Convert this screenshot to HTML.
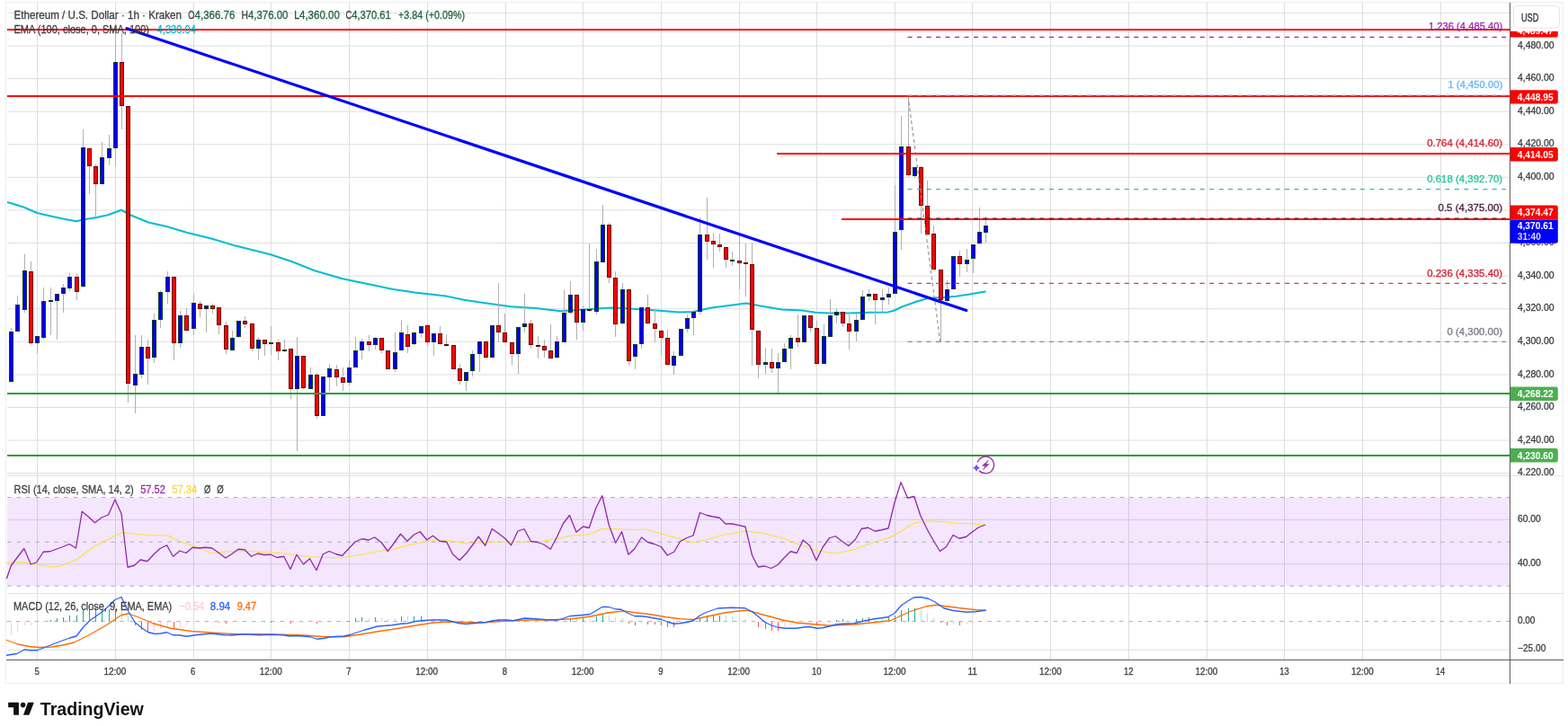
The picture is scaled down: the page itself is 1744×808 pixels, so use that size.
<!DOCTYPE html>
<html><head><meta charset="utf-8"><title>ETH/USD chart</title>
<style>html,body{margin:0;padding:0;background:#fff;}body{width:1744px;height:808px;overflow:hidden;}svg{display:block;}</style>
</head><body>
<svg width="1744" height="808" viewBox="0 0 1744 808" font-family="'Liberation Sans', Arial, sans-serif">
<rect x="0" y="0" width="1744" height="808" fill="#ffffff"/>
<rect x="6.5" y="2.5" width="1732.0" height="758.0" fill="#ffffff" stroke="#eeeeee" stroke-width="1"/>
<g shape-rendering="crispEdges">
<line x1="41.50" y1="3.00" x2="41.50" y2="734.00" stroke="#dedede" stroke-width="1" />
<line x1="128.50" y1="3.00" x2="128.50" y2="734.00" stroke="#dedede" stroke-width="1" />
<line x1="215.50" y1="3.00" x2="215.50" y2="734.00" stroke="#dedede" stroke-width="1" />
<line x1="301.50" y1="3.00" x2="301.50" y2="734.00" stroke="#dedede" stroke-width="1" />
<line x1="388.50" y1="3.00" x2="388.50" y2="734.00" stroke="#dedede" stroke-width="1" />
<line x1="475.50" y1="3.00" x2="475.50" y2="734.00" stroke="#dedede" stroke-width="1" />
<line x1="562.50" y1="3.00" x2="562.50" y2="734.00" stroke="#dedede" stroke-width="1" />
<line x1="648.50" y1="3.00" x2="648.50" y2="734.00" stroke="#dedede" stroke-width="1" />
<line x1="735.50" y1="3.00" x2="735.50" y2="734.00" stroke="#dedede" stroke-width="1" />
<line x1="822.50" y1="3.00" x2="822.50" y2="734.00" stroke="#dedede" stroke-width="1" />
<line x1="908.50" y1="3.00" x2="908.50" y2="734.00" stroke="#dedede" stroke-width="1" />
<line x1="995.50" y1="3.00" x2="995.50" y2="734.00" stroke="#dedede" stroke-width="1" />
<line x1="1081.50" y1="3.00" x2="1081.50" y2="734.00" stroke="#dedede" stroke-width="1" />
<line x1="1168.50" y1="3.00" x2="1168.50" y2="734.00" stroke="#dedede" stroke-width="1" />
<line x1="1255.50" y1="3.00" x2="1255.50" y2="734.00" stroke="#dedede" stroke-width="1" />
<line x1="1342.50" y1="3.00" x2="1342.50" y2="734.00" stroke="#dedede" stroke-width="1" />
<line x1="1428.50" y1="3.00" x2="1428.50" y2="734.00" stroke="#dedede" stroke-width="1" />
<line x1="1515.50" y1="3.00" x2="1515.50" y2="734.00" stroke="#dedede" stroke-width="1" />
<line x1="1602.50" y1="3.00" x2="1602.50" y2="734.00" stroke="#dedede" stroke-width="1" />
</g>
<line x1="8.00" y1="526.68" x2="1679.00" y2="526.68" stroke="#dedede" stroke-width="1" />
<line x1="8.00" y1="490.09" x2="1679.00" y2="490.09" stroke="#dedede" stroke-width="1" />
<line x1="8.00" y1="453.50" x2="1679.00" y2="453.50" stroke="#dedede" stroke-width="1" />
<line x1="8.00" y1="416.90" x2="1679.00" y2="416.90" stroke="#dedede" stroke-width="1" />
<line x1="8.00" y1="380.31" x2="1679.00" y2="380.31" stroke="#dedede" stroke-width="1" />
<line x1="8.00" y1="343.72" x2="1679.00" y2="343.72" stroke="#dedede" stroke-width="1" />
<line x1="8.00" y1="307.13" x2="1679.00" y2="307.13" stroke="#dedede" stroke-width="1" />
<line x1="8.00" y1="270.54" x2="1679.00" y2="270.54" stroke="#dedede" stroke-width="1" />
<line x1="8.00" y1="233.95" x2="1679.00" y2="233.95" stroke="#dedede" stroke-width="1" />
<line x1="8.00" y1="197.35" x2="1679.00" y2="197.35" stroke="#dedede" stroke-width="1" />
<line x1="8.00" y1="160.76" x2="1679.00" y2="160.76" stroke="#dedede" stroke-width="1" />
<line x1="8.00" y1="124.17" x2="1679.00" y2="124.17" stroke="#dedede" stroke-width="1" />
<line x1="8.00" y1="87.58" x2="1679.00" y2="87.58" stroke="#dedede" stroke-width="1" />
<line x1="8.00" y1="50.99" x2="1679.00" y2="50.99" stroke="#dedede" stroke-width="1" />
<line x1="8.00" y1="14.39" x2="1679.00" y2="14.39" stroke="#dedede" stroke-width="1" />
<line x1="8.00" y1="578.30" x2="1679.00" y2="578.30" stroke="#dedede" stroke-width="1" />
<line x1="8.00" y1="627.80" x2="1679.00" y2="627.80" stroke="#dedede" stroke-width="1" />
<rect x="8" y="553.5" width="1671.0" height="98.7" fill="rgb(155,47,238)" fill-opacity="0.12"/>
<line x1="8.00" y1="723.20" x2="1679.00" y2="723.20" stroke="#dedede" stroke-width="1" />
<g shape-rendering="crispEdges">
<line x1="8.00" y1="529.50" x2="1738.50" y2="529.50" stroke="#e0e3eb" stroke-width="1" />
<line x1="8.00" y1="660.50" x2="1738.50" y2="660.50" stroke="#e0e3eb" stroke-width="1" />
</g>
<line x1="8.10" y1="553.60" x2="1679.00" y2="553.60" stroke="#adadb2" stroke-width="1" stroke-dasharray="4.5 5.988"/>
<line x1="8.10" y1="603.20" x2="1679.00" y2="603.20" stroke="#adadb2" stroke-width="1" stroke-dasharray="4.5 5.988"/>
<line x1="8.10" y1="652.20" x2="1679.00" y2="652.20" stroke="#adadb2" stroke-width="1" stroke-dasharray="4.5 5.988"/>
<line x1="7.41" y1="691.60" x2="1679.00" y2="691.60" stroke="#b0b0b5" stroke-width="1" stroke-dasharray="4.5 5.988"/>
<svg x="8" y="2.5" width="1671.0" height="524.5" viewBox="8 2.5 1671.0 524.5" overflow="hidden">
<polyline points="8.00,225.00 26.25,230.50 41.25,237.00 56.25,240.50 72.50,244.00 85.00,246.25 93.75,244.25 107.50,242.00 120.00,239.25 135.00,233.75 145.00,239.25 165.00,247.50 185.00,252.00 207.50,258.75 235.00,265.50 260.00,273.00 300.00,283.00 325.00,291.25 350.00,301.25 380.00,310.00 410.00,316.25 436.00,321.75 461.00,325.50 496.00,329.50 516.00,333.75 541.00,337.50 568.50,341.25 596.00,343.00 623.50,346.25 651.00,344.50 671.00,343.00 681.00,342.50 696.00,343.25 723.50,345.00 756.00,347.50 771.00,347.00 791.00,342.50 811.00,340.00 829.75,337.50 846.00,340.50 869.80,344.40 892.20,345.50 907.10,347.70 922.00,348.40 944.40,348.40 966.70,347.70 987.60,347.40 995.00,345.50 1002.50,341.70 1018.90,335.80 1032.30,332.00 1048.70,331.00 1063.60,329.80 1078.50,327.60 1095.70,324.60" fill="none" stroke="#00bcd4" stroke-width="2" stroke-linejoin="round" stroke-linecap="round" />
<g shape-rendering="crispEdges">
<line x1="12.5" y1="365.0" x2="12.5" y2="424.5" stroke="#b0b0b0" stroke-width="1"/>
<rect x="10.5" y="369.5" width="4" height="55" fill="#0000ff" stroke="#0d3b24" stroke-width="1"/>
<line x1="19.5" y1="328.8" x2="19.5" y2="368.8" stroke="#b0b0b0" stroke-width="1"/>
<rect x="17.5" y="339.5" width="4" height="29" fill="#0000ff" stroke="#0d3b24" stroke-width="1"/>
<line x1="27.5" y1="282.5" x2="27.5" y2="347.5" stroke="#b0b0b0" stroke-width="1"/>
<rect x="25.5" y="301.5" width="4" height="43" fill="#0000ff" stroke="#0d3b24" stroke-width="1"/>
<line x1="34.5" y1="290.5" x2="34.5" y2="382.5" stroke="#b0b0b0" stroke-width="1"/>
<rect x="32.5" y="302.5" width="4" height="79" fill="#ff0000" stroke="#6b0000" stroke-width="1"/>
<line x1="41.5" y1="374.2" x2="41.5" y2="392.5" stroke="#b0b0b0" stroke-width="1"/>
<rect x="39.5" y="374.5" width="4" height="7" fill="#0000ff" stroke="#0d3b24" stroke-width="1"/>
<line x1="48.5" y1="319.5" x2="48.5" y2="376.5" stroke="#b0b0b0" stroke-width="1"/>
<rect x="46.5" y="335.5" width="4" height="40" fill="#0000ff" stroke="#0d3b24" stroke-width="1"/>
<line x1="56.5" y1="320.0" x2="56.5" y2="372.5" stroke="#b0b0b0" stroke-width="1"/>
<rect x="54.5" y="334.5" width="4" height="1" fill="#0000ff" stroke="#0d3b24" stroke-width="1"/>
<line x1="63.5" y1="327.0" x2="63.5" y2="377.5" stroke="#b0b0b0" stroke-width="1"/>
<rect x="61.5" y="327.5" width="4" height="7" fill="#0000ff" stroke="#0d3b24" stroke-width="1"/>
<line x1="70.5" y1="316.2" x2="70.5" y2="347.5" stroke="#b0b0b0" stroke-width="1"/>
<rect x="68.5" y="320.5" width="4" height="6" fill="#0000ff" stroke="#0d3b24" stroke-width="1"/>
<line x1="77.5" y1="303.8" x2="77.5" y2="323.8" stroke="#b0b0b0" stroke-width="1"/>
<rect x="75.5" y="308.5" width="4" height="12" fill="#0000ff" stroke="#0d3b24" stroke-width="1"/>
<line x1="85.5" y1="303.8" x2="85.5" y2="333.8" stroke="#b0b0b0" stroke-width="1"/>
<rect x="83.5" y="308.5" width="4" height="16" fill="#ff0000" stroke="#6b0000" stroke-width="1"/>
<line x1="92.5" y1="143.8" x2="92.5" y2="319.5" stroke="#b0b0b0" stroke-width="1"/>
<rect x="90.5" y="164.5" width="4" height="154" fill="#0000ff" stroke="#0d3b24" stroke-width="1"/>
<line x1="99.5" y1="165.0" x2="99.5" y2="216.0" stroke="#b0b0b0" stroke-width="1"/>
<rect x="97.5" y="165.5" width="4" height="19" fill="#ff0000" stroke="#6b0000" stroke-width="1"/>
<line x1="106.5" y1="183.0" x2="106.5" y2="241.2" stroke="#b0b0b0" stroke-width="1"/>
<rect x="104.5" y="185.5" width="4" height="19" fill="#ff0000" stroke="#6b0000" stroke-width="1"/>
<line x1="113.5" y1="158.0" x2="113.5" y2="204.5" stroke="#b0b0b0" stroke-width="1"/>
<rect x="111.5" y="175.5" width="4" height="29" fill="#0000ff" stroke="#0d3b24" stroke-width="1"/>
<line x1="121.5" y1="150.0" x2="121.5" y2="184.0" stroke="#b0b0b0" stroke-width="1"/>
<rect x="119.5" y="165.5" width="4" height="10" fill="#0000ff" stroke="#0d3b24" stroke-width="1"/>
<line x1="128.5" y1="30.0" x2="128.5" y2="185.0" stroke="#b0b0b0" stroke-width="1"/>
<rect x="126.5" y="69.5" width="4" height="95" fill="#0000ff" stroke="#0d3b24" stroke-width="1"/>
<line x1="135.5" y1="36.6" x2="135.5" y2="143.8" stroke="#b0b0b0" stroke-width="1"/>
<rect x="133.5" y="69.5" width="4" height="48" fill="#ff0000" stroke="#6b0000" stroke-width="1"/>
<line x1="142.5" y1="118.2" x2="142.5" y2="447.5" stroke="#b0b0b0" stroke-width="1"/>
<rect x="140.5" y="118.5" width="4" height="308" fill="#ff0000" stroke="#6b0000" stroke-width="1"/>
<line x1="150.5" y1="373.0" x2="150.5" y2="459.5" stroke="#b0b0b0" stroke-width="1"/>
<rect x="148.5" y="416.5" width="4" height="12" fill="#0000ff" stroke="#0d3b24" stroke-width="1"/>
<line x1="157.5" y1="372.5" x2="157.5" y2="421.2" stroke="#b0b0b0" stroke-width="1"/>
<rect x="155.5" y="386.5" width="4" height="30" fill="#0000ff" stroke="#0d3b24" stroke-width="1"/>
<line x1="164.5" y1="378.0" x2="164.5" y2="428.0" stroke="#b0b0b0" stroke-width="1"/>
<rect x="162.5" y="386.5" width="4" height="12" fill="#ff0000" stroke="#6b0000" stroke-width="1"/>
<line x1="171.5" y1="348.8" x2="171.5" y2="403.8" stroke="#b0b0b0" stroke-width="1"/>
<rect x="169.5" y="356.5" width="4" height="41" fill="#0000ff" stroke="#0d3b24" stroke-width="1"/>
<line x1="178.5" y1="322.5" x2="178.5" y2="365.0" stroke="#b0b0b0" stroke-width="1"/>
<rect x="176.5" y="325.5" width="4" height="30" fill="#0000ff" stroke="#0d3b24" stroke-width="1"/>
<line x1="186.5" y1="302.0" x2="186.5" y2="337.5" stroke="#b0b0b0" stroke-width="1"/>
<rect x="184.5" y="308.5" width="4" height="16" fill="#0000ff" stroke="#0d3b24" stroke-width="1"/>
<line x1="193.5" y1="308.2" x2="193.5" y2="400.8" stroke="#b0b0b0" stroke-width="1"/>
<rect x="191.5" y="308.5" width="4" height="73" fill="#ff0000" stroke="#6b0000" stroke-width="1"/>
<line x1="200.5" y1="346.2" x2="200.5" y2="387.0" stroke="#b0b0b0" stroke-width="1"/>
<rect x="198.5" y="351.5" width="4" height="30" fill="#0000ff" stroke="#0d3b24" stroke-width="1"/>
<line x1="207.5" y1="343.0" x2="207.5" y2="368.0" stroke="#b0b0b0" stroke-width="1"/>
<rect x="205.5" y="351.5" width="4" height="16" fill="#ff0000" stroke="#6b0000" stroke-width="1"/>
<line x1="215.5" y1="327.0" x2="215.5" y2="373.0" stroke="#b0b0b0" stroke-width="1"/>
<rect x="213.5" y="337.5" width="4" height="28" fill="#0000ff" stroke="#0d3b24" stroke-width="1"/>
<line x1="222.5" y1="334.5" x2="222.5" y2="352.5" stroke="#b0b0b0" stroke-width="1"/>
<rect x="220.5" y="338.5" width="4" height="5" fill="#ff0000" stroke="#6b0000" stroke-width="1"/>
<line x1="229.5" y1="340.5" x2="229.5" y2="370.0" stroke="#b0b0b0" stroke-width="1"/>
<rect x="227.5" y="340.5" width="4" height="3" fill="#0000ff" stroke="#0d3b24" stroke-width="1"/>
<line x1="236.5" y1="338.0" x2="236.5" y2="348.8" stroke="#b0b0b0" stroke-width="1"/>
<rect x="234.5" y="340.5" width="4" height="3" fill="#ff0000" stroke="#6b0000" stroke-width="1"/>
<line x1="243.5" y1="342.0" x2="243.5" y2="372.0" stroke="#b0b0b0" stroke-width="1"/>
<rect x="241.5" y="342.5" width="4" height="19" fill="#ff0000" stroke="#6b0000" stroke-width="1"/>
<line x1="251.5" y1="357.5" x2="251.5" y2="393.8" stroke="#b0b0b0" stroke-width="1"/>
<rect x="249.5" y="362.5" width="4" height="26" fill="#ff0000" stroke="#6b0000" stroke-width="1"/>
<line x1="258.5" y1="368.0" x2="258.5" y2="389.5" stroke="#b0b0b0" stroke-width="1"/>
<rect x="256.5" y="376.5" width="4" height="13" fill="#0000ff" stroke="#0d3b24" stroke-width="1"/>
<line x1="265.5" y1="357.0" x2="265.5" y2="376.0" stroke="#b0b0b0" stroke-width="1"/>
<rect x="263.5" y="357.5" width="4" height="17" fill="#0000ff" stroke="#0d3b24" stroke-width="1"/>
<line x1="272.5" y1="352.0" x2="272.5" y2="365.0" stroke="#b0b0b0" stroke-width="1"/>
<rect x="270.5" y="357.5" width="4" height="3" fill="#ff0000" stroke="#6b0000" stroke-width="1"/>
<line x1="280.5" y1="360.0" x2="280.5" y2="391.0" stroke="#b0b0b0" stroke-width="1"/>
<rect x="278.5" y="360.5" width="4" height="27" fill="#ff0000" stroke="#6b0000" stroke-width="1"/>
<line x1="287.5" y1="374.5" x2="287.5" y2="400.5" stroke="#b0b0b0" stroke-width="1"/>
<rect x="285.5" y="378.5" width="4" height="9" fill="#0000ff" stroke="#0d3b24" stroke-width="1"/>
<line x1="294.5" y1="378.0" x2="294.5" y2="395.5" stroke="#b0b0b0" stroke-width="1"/>
<rect x="292.5" y="378.5" width="4" height="4" fill="#ff0000" stroke="#6b0000" stroke-width="1"/>
<line x1="301.5" y1="362.5" x2="301.5" y2="394.5" stroke="#b0b0b0" stroke-width="1"/>
<rect x="299.5" y="381.5" width="4" height="1" fill="#0000ff" stroke="#0d3b24" stroke-width="1"/>
<line x1="309.5" y1="377.5" x2="309.5" y2="400.5" stroke="#b0b0b0" stroke-width="1"/>
<rect x="307.5" y="381.5" width="4" height="9" fill="#ff0000" stroke="#6b0000" stroke-width="1"/>
<line x1="316.5" y1="378.0" x2="316.5" y2="392.0" stroke="#b0b0b0" stroke-width="1"/>
<rect x="314.5" y="389.5" width="4" height="1" fill="#0000ff" stroke="#0d3b24" stroke-width="1"/>
<line x1="323.5" y1="387.5" x2="323.5" y2="443.8" stroke="#b0b0b0" stroke-width="1"/>
<rect x="321.5" y="388.5" width="4" height="44" fill="#ff0000" stroke="#6b0000" stroke-width="1"/>
<line x1="330.5" y1="374.5" x2="330.5" y2="502.0" stroke="#b0b0b0" stroke-width="1"/>
<rect x="328.5" y="396.5" width="4" height="36" fill="#0000ff" stroke="#0d3b24" stroke-width="1"/>
<line x1="337.5" y1="396.2" x2="337.5" y2="432.5" stroke="#b0b0b0" stroke-width="1"/>
<rect x="335.5" y="396.5" width="4" height="35" fill="#ff0000" stroke="#6b0000" stroke-width="1"/>
<line x1="345.5" y1="408.8" x2="345.5" y2="432.5" stroke="#b0b0b0" stroke-width="1"/>
<rect x="343.5" y="417.5" width="4" height="15" fill="#0000ff" stroke="#0d3b24" stroke-width="1"/>
<line x1="352.5" y1="415.0" x2="352.5" y2="466.2" stroke="#b0b0b0" stroke-width="1"/>
<rect x="350.5" y="417.5" width="4" height="45" fill="#ff0000" stroke="#6b0000" stroke-width="1"/>
<line x1="359.5" y1="419.2" x2="359.5" y2="463.2" stroke="#b0b0b0" stroke-width="1"/>
<rect x="357.5" y="419.5" width="4" height="43" fill="#0000ff" stroke="#0d3b24" stroke-width="1"/>
<line x1="366.5" y1="404.5" x2="366.5" y2="434.5" stroke="#b0b0b0" stroke-width="1"/>
<rect x="364.5" y="410.5" width="4" height="9" fill="#0000ff" stroke="#0d3b24" stroke-width="1"/>
<line x1="374.5" y1="405.5" x2="374.5" y2="430.0" stroke="#b0b0b0" stroke-width="1"/>
<rect x="372.5" y="411.5" width="4" height="8" fill="#ff0000" stroke="#6b0000" stroke-width="1"/>
<line x1="381.5" y1="408.8" x2="381.5" y2="434.5" stroke="#b0b0b0" stroke-width="1"/>
<rect x="379.5" y="420.5" width="4" height="5" fill="#ff0000" stroke="#6b0000" stroke-width="1"/>
<line x1="388.5" y1="400.8" x2="388.5" y2="428.8" stroke="#b0b0b0" stroke-width="1"/>
<rect x="386.5" y="409.5" width="4" height="16" fill="#0000ff" stroke="#0d3b24" stroke-width="1"/>
<line x1="395.5" y1="375.0" x2="395.5" y2="408.8" stroke="#b0b0b0" stroke-width="1"/>
<rect x="393.5" y="390.5" width="4" height="18" fill="#0000ff" stroke="#0d3b24" stroke-width="1"/>
<line x1="402.5" y1="377.0" x2="402.5" y2="399.5" stroke="#b0b0b0" stroke-width="1"/>
<rect x="400.5" y="380.5" width="4" height="9" fill="#0000ff" stroke="#0d3b24" stroke-width="1"/>
<line x1="410.5" y1="373.0" x2="410.5" y2="390.8" stroke="#b0b0b0" stroke-width="1"/>
<rect x="408.5" y="380.5" width="4" height="3" fill="#ff0000" stroke="#6b0000" stroke-width="1"/>
<line x1="417.5" y1="375.0" x2="417.5" y2="388.8" stroke="#b0b0b0" stroke-width="1"/>
<rect x="415.5" y="376.5" width="4" height="7" fill="#0000ff" stroke="#0d3b24" stroke-width="1"/>
<line x1="424.5" y1="376.2" x2="424.5" y2="392.5" stroke="#b0b0b0" stroke-width="1"/>
<rect x="422.5" y="376.5" width="4" height="13" fill="#ff0000" stroke="#6b0000" stroke-width="1"/>
<line x1="431.5" y1="389.5" x2="431.5" y2="410.5" stroke="#b0b0b0" stroke-width="1"/>
<rect x="429.5" y="390.5" width="4" height="20" fill="#ff0000" stroke="#6b0000" stroke-width="1"/>
<line x1="439.5" y1="370.0" x2="439.5" y2="413.8" stroke="#b0b0b0" stroke-width="1"/>
<rect x="437.5" y="392.5" width="4" height="18" fill="#0000ff" stroke="#0d3b24" stroke-width="1"/>
<line x1="446.5" y1="356.2" x2="446.5" y2="390.0" stroke="#b0b0b0" stroke-width="1"/>
<rect x="444.5" y="370.5" width="4" height="19" fill="#0000ff" stroke="#0d3b24" stroke-width="1"/>
<line x1="453.5" y1="362.0" x2="453.5" y2="393.0" stroke="#b0b0b0" stroke-width="1"/>
<rect x="451.5" y="372.5" width="4" height="13" fill="#ff0000" stroke="#6b0000" stroke-width="1"/>
<line x1="460.5" y1="370.5" x2="460.5" y2="383.8" stroke="#b0b0b0" stroke-width="1"/>
<rect x="458.5" y="370.5" width="4" height="12" fill="#0000ff" stroke="#0d3b24" stroke-width="1"/>
<line x1="468.5" y1="363.0" x2="468.5" y2="376.2" stroke="#b0b0b0" stroke-width="1"/>
<rect x="466.5" y="363.5" width="4" height="7" fill="#0000ff" stroke="#0d3b24" stroke-width="1"/>
<line x1="475.5" y1="362.0" x2="475.5" y2="385.0" stroke="#b0b0b0" stroke-width="1"/>
<rect x="473.5" y="362.5" width="4" height="18" fill="#ff0000" stroke="#6b0000" stroke-width="1"/>
<line x1="482.5" y1="371.2" x2="482.5" y2="396.2" stroke="#b0b0b0" stroke-width="1"/>
<rect x="480.5" y="371.5" width="4" height="9" fill="#0000ff" stroke="#0d3b24" stroke-width="1"/>
<line x1="489.5" y1="363.0" x2="489.5" y2="383.0" stroke="#b0b0b0" stroke-width="1"/>
<rect x="487.5" y="371.5" width="4" height="11" fill="#ff0000" stroke="#6b0000" stroke-width="1"/>
<line x1="496.5" y1="372.0" x2="496.5" y2="386.2" stroke="#b0b0b0" stroke-width="1"/>
<rect x="494.5" y="383.5" width="4" height="1" fill="#ff0000" stroke="#6b0000" stroke-width="1"/>
<line x1="504.5" y1="383.8" x2="504.5" y2="410.5" stroke="#b0b0b0" stroke-width="1"/>
<rect x="502.5" y="384.5" width="4" height="26" fill="#ff0000" stroke="#6b0000" stroke-width="1"/>
<line x1="511.5" y1="404.5" x2="511.5" y2="427.5" stroke="#b0b0b0" stroke-width="1"/>
<rect x="509.5" y="410.5" width="4" height="13" fill="#ff0000" stroke="#6b0000" stroke-width="1"/>
<line x1="518.5" y1="413.8" x2="518.5" y2="434.5" stroke="#b0b0b0" stroke-width="1"/>
<rect x="516.5" y="414.5" width="4" height="9" fill="#0000ff" stroke="#0d3b24" stroke-width="1"/>
<line x1="525.5" y1="390.0" x2="525.5" y2="418.8" stroke="#b0b0b0" stroke-width="1"/>
<rect x="523.5" y="394.5" width="4" height="18" fill="#0000ff" stroke="#0d3b24" stroke-width="1"/>
<line x1="533.5" y1="380.5" x2="533.5" y2="413.8" stroke="#b0b0b0" stroke-width="1"/>
<rect x="531.5" y="380.5" width="4" height="13" fill="#0000ff" stroke="#0d3b24" stroke-width="1"/>
<line x1="540.5" y1="380.5" x2="540.5" y2="398.0" stroke="#b0b0b0" stroke-width="1"/>
<rect x="538.5" y="380.5" width="4" height="17" fill="#ff0000" stroke="#6b0000" stroke-width="1"/>
<line x1="547.5" y1="362.0" x2="547.5" y2="398.0" stroke="#b0b0b0" stroke-width="1"/>
<rect x="545.5" y="362.5" width="4" height="35" fill="#0000ff" stroke="#0d3b24" stroke-width="1"/>
<line x1="554.5" y1="314.5" x2="554.5" y2="381.2" stroke="#b0b0b0" stroke-width="1"/>
<rect x="552.5" y="362.5" width="4" height="7" fill="#ff0000" stroke="#6b0000" stroke-width="1"/>
<line x1="561.5" y1="348.8" x2="561.5" y2="381.2" stroke="#b0b0b0" stroke-width="1"/>
<rect x="559.5" y="370.5" width="4" height="10" fill="#ff0000" stroke="#6b0000" stroke-width="1"/>
<line x1="569.5" y1="381.2" x2="569.5" y2="406.2" stroke="#b0b0b0" stroke-width="1"/>
<rect x="567.5" y="381.5" width="4" height="12" fill="#ff0000" stroke="#6b0000" stroke-width="1"/>
<line x1="576.5" y1="364.5" x2="576.5" y2="415.8" stroke="#b0b0b0" stroke-width="1"/>
<rect x="574.5" y="364.5" width="4" height="29" fill="#0000ff" stroke="#0d3b24" stroke-width="1"/>
<line x1="583.5" y1="327.0" x2="583.5" y2="370.0" stroke="#b0b0b0" stroke-width="1"/>
<rect x="581.5" y="360.5" width="4" height="3" fill="#0000ff" stroke="#0d3b24" stroke-width="1"/>
<line x1="590.5" y1="356.2" x2="590.5" y2="387.5" stroke="#b0b0b0" stroke-width="1"/>
<rect x="588.5" y="360.5" width="4" height="23" fill="#ff0000" stroke="#6b0000" stroke-width="1"/>
<line x1="598.5" y1="373.8" x2="598.5" y2="398.8" stroke="#b0b0b0" stroke-width="1"/>
<rect x="596.5" y="384.5" width="4" height="1" fill="#ff0000" stroke="#6b0000" stroke-width="1"/>
<line x1="605.5" y1="377.5" x2="605.5" y2="398.0" stroke="#b0b0b0" stroke-width="1"/>
<rect x="603.5" y="385.5" width="4" height="4" fill="#ff0000" stroke="#6b0000" stroke-width="1"/>
<line x1="612.5" y1="361.2" x2="612.5" y2="398.5" stroke="#b0b0b0" stroke-width="1"/>
<rect x="610.5" y="390.5" width="4" height="8" fill="#ff0000" stroke="#6b0000" stroke-width="1"/>
<line x1="619.5" y1="373.5" x2="619.5" y2="398.5" stroke="#b0b0b0" stroke-width="1"/>
<rect x="617.5" y="380.5" width="4" height="17" fill="#0000ff" stroke="#0d3b24" stroke-width="1"/>
<line x1="627.5" y1="323.0" x2="627.5" y2="380.2" stroke="#b0b0b0" stroke-width="1"/>
<rect x="625.5" y="348.5" width="4" height="32" fill="#0000ff" stroke="#0d3b24" stroke-width="1"/>
<line x1="634.5" y1="312.5" x2="634.5" y2="350.0" stroke="#b0b0b0" stroke-width="1"/>
<rect x="632.5" y="328.5" width="4" height="19" fill="#0000ff" stroke="#0d3b24" stroke-width="1"/>
<line x1="641.5" y1="327.5" x2="641.5" y2="377.5" stroke="#b0b0b0" stroke-width="1"/>
<rect x="639.5" y="328.5" width="4" height="30" fill="#ff0000" stroke="#6b0000" stroke-width="1"/>
<line x1="648.5" y1="339.5" x2="648.5" y2="368.0" stroke="#b0b0b0" stroke-width="1"/>
<rect x="646.5" y="344.5" width="4" height="14" fill="#0000ff" stroke="#0d3b24" stroke-width="1"/>
<line x1="655.5" y1="270.5" x2="655.5" y2="347.0" stroke="#b0b0b0" stroke-width="1"/>
<rect x="653.5" y="344.5" width="4" height="1" fill="#ff0000" stroke="#6b0000" stroke-width="1"/>
<line x1="663.5" y1="277.0" x2="663.5" y2="349.5" stroke="#b0b0b0" stroke-width="1"/>
<rect x="661.5" y="291.5" width="4" height="55" fill="#0000ff" stroke="#0d3b24" stroke-width="1"/>
<line x1="670.5" y1="227.5" x2="670.5" y2="292.0" stroke="#b0b0b0" stroke-width="1"/>
<rect x="668.5" y="250.5" width="4" height="41" fill="#0000ff" stroke="#0d3b24" stroke-width="1"/>
<line x1="677.5" y1="247.5" x2="677.5" y2="315.0" stroke="#b0b0b0" stroke-width="1"/>
<rect x="675.5" y="250.5" width="4" height="58" fill="#ff0000" stroke="#6b0000" stroke-width="1"/>
<line x1="684.5" y1="302.0" x2="684.5" y2="375.0" stroke="#b0b0b0" stroke-width="1"/>
<rect x="682.5" y="309.5" width="4" height="51" fill="#ff0000" stroke="#6b0000" stroke-width="1"/>
<line x1="692.5" y1="314.5" x2="692.5" y2="360.5" stroke="#b0b0b0" stroke-width="1"/>
<rect x="690.5" y="322.5" width="4" height="37" fill="#0000ff" stroke="#0d3b24" stroke-width="1"/>
<line x1="699.5" y1="322.0" x2="699.5" y2="407.0" stroke="#b0b0b0" stroke-width="1"/>
<rect x="697.5" y="322.5" width="4" height="79" fill="#ff0000" stroke="#6b0000" stroke-width="1"/>
<line x1="706.5" y1="383.0" x2="706.5" y2="411.2" stroke="#b0b0b0" stroke-width="1"/>
<rect x="704.5" y="383.5" width="4" height="13" fill="#0000ff" stroke="#0d3b24" stroke-width="1"/>
<line x1="713.5" y1="342.0" x2="713.5" y2="388.0" stroke="#b0b0b0" stroke-width="1"/>
<rect x="711.5" y="342.5" width="4" height="40" fill="#0000ff" stroke="#0d3b24" stroke-width="1"/>
<line x1="720.5" y1="327.5" x2="720.5" y2="360.5" stroke="#b0b0b0" stroke-width="1"/>
<rect x="718.5" y="342.5" width="4" height="17" fill="#ff0000" stroke="#6b0000" stroke-width="1"/>
<line x1="728.5" y1="344.5" x2="728.5" y2="381.2" stroke="#b0b0b0" stroke-width="1"/>
<rect x="726.5" y="360.5" width="4" height="5" fill="#ff0000" stroke="#6b0000" stroke-width="1"/>
<line x1="735.5" y1="367.0" x2="735.5" y2="396.0" stroke="#b0b0b0" stroke-width="1"/>
<rect x="733.5" y="368.5" width="4" height="7" fill="#ff0000" stroke="#6b0000" stroke-width="1"/>
<line x1="742.5" y1="367.0" x2="742.5" y2="406.2" stroke="#b0b0b0" stroke-width="1"/>
<rect x="740.5" y="376.5" width="4" height="29" fill="#ff0000" stroke="#6b0000" stroke-width="1"/>
<line x1="749.5" y1="391.2" x2="749.5" y2="417.0" stroke="#b0b0b0" stroke-width="1"/>
<rect x="747.5" y="396.5" width="4" height="10" fill="#0000ff" stroke="#0d3b24" stroke-width="1"/>
<line x1="757.5" y1="365.5" x2="757.5" y2="395.5" stroke="#b0b0b0" stroke-width="1"/>
<rect x="755.5" y="366.5" width="4" height="29" fill="#0000ff" stroke="#0d3b24" stroke-width="1"/>
<line x1="764.5" y1="350.0" x2="764.5" y2="370.0" stroke="#b0b0b0" stroke-width="1"/>
<rect x="762.5" y="354.5" width="4" height="11" fill="#0000ff" stroke="#0d3b24" stroke-width="1"/>
<line x1="771.5" y1="347.0" x2="771.5" y2="372.5" stroke="#b0b0b0" stroke-width="1"/>
<rect x="769.5" y="347.5" width="4" height="6" fill="#0000ff" stroke="#0d3b24" stroke-width="1"/>
<line x1="778.5" y1="242.0" x2="778.5" y2="349.5" stroke="#b0b0b0" stroke-width="1"/>
<rect x="776.5" y="261.5" width="4" height="85" fill="#0000ff" stroke="#0d3b24" stroke-width="1"/>
<line x1="786.5" y1="220.0" x2="786.5" y2="288.8" stroke="#b0b0b0" stroke-width="1"/>
<rect x="784.5" y="261.5" width="4" height="7" fill="#ff0000" stroke="#6b0000" stroke-width="1"/>
<line x1="793.5" y1="258.8" x2="793.5" y2="297.5" stroke="#b0b0b0" stroke-width="1"/>
<rect x="791.5" y="268.5" width="4" height="3" fill="#ff0000" stroke="#6b0000" stroke-width="1"/>
<line x1="800.5" y1="259.5" x2="800.5" y2="279.5" stroke="#b0b0b0" stroke-width="1"/>
<rect x="798.5" y="272.5" width="4" height="2" fill="#ff0000" stroke="#6b0000" stroke-width="1"/>
<line x1="807.5" y1="275.0" x2="807.5" y2="297.5" stroke="#b0b0b0" stroke-width="1"/>
<rect x="805.5" y="275.5" width="4" height="13" fill="#ff0000" stroke="#6b0000" stroke-width="1"/>
<line x1="814.5" y1="280.0" x2="814.5" y2="296.2" stroke="#b0b0b0" stroke-width="1"/>
<rect x="812.5" y="289.5" width="4" height="1" fill="#0000ff" stroke="#0d3b24" stroke-width="1"/>
<line x1="822.5" y1="260.0" x2="822.5" y2="322.0" stroke="#b0b0b0" stroke-width="1"/>
<rect x="820.5" y="290.5" width="4" height="2" fill="#ff0000" stroke="#6b0000" stroke-width="1"/>
<line x1="829.5" y1="270.5" x2="829.5" y2="329.5" stroke="#b0b0b0" stroke-width="1"/>
<rect x="827.5" y="292.5" width="4" height="1" fill="#ff0000" stroke="#6b0000" stroke-width="1"/>
<line x1="836.5" y1="269.5" x2="836.5" y2="407.0" stroke="#b0b0b0" stroke-width="1"/>
<rect x="834.5" y="294.5" width="4" height="72" fill="#ff0000" stroke="#6b0000" stroke-width="1"/>
<line x1="843.5" y1="368.0" x2="843.5" y2="421.2" stroke="#b0b0b0" stroke-width="1"/>
<rect x="841.5" y="368.5" width="4" height="37" fill="#ff0000" stroke="#6b0000" stroke-width="1"/>
<line x1="851.5" y1="387.0" x2="851.5" y2="415.5" stroke="#b0b0b0" stroke-width="1"/>
<rect x="849.5" y="403.5" width="4" height="2" fill="#0000ff" stroke="#0d3b24" stroke-width="1"/>
<line x1="858.5" y1="388.0" x2="858.5" y2="414.5" stroke="#b0b0b0" stroke-width="1"/>
<rect x="856.5" y="403.5" width="4" height="6" fill="#ff0000" stroke="#6b0000" stroke-width="1"/>
<line x1="865.5" y1="392.5" x2="865.5" y2="437.0" stroke="#b0b0b0" stroke-width="1"/>
<rect x="863.5" y="403.5" width="4" height="6" fill="#0000ff" stroke="#0d3b24" stroke-width="1"/>
<line x1="872.5" y1="382.0" x2="872.5" y2="402.9" stroke="#b0b0b0" stroke-width="1"/>
<rect x="870.5" y="388.5" width="4" height="14" fill="#0000ff" stroke="#0d3b24" stroke-width="1"/>
<line x1="879.5" y1="372.7" x2="879.5" y2="411.0" stroke="#b0b0b0" stroke-width="1"/>
<rect x="877.5" y="376.5" width="4" height="11" fill="#0000ff" stroke="#0d3b24" stroke-width="1"/>
<line x1="887.5" y1="350.0" x2="887.5" y2="386.2" stroke="#b0b0b0" stroke-width="1"/>
<rect x="885.5" y="376.5" width="4" height="4" fill="#ff0000" stroke="#6b0000" stroke-width="1"/>
<line x1="894.5" y1="351.4" x2="894.5" y2="381.2" stroke="#b0b0b0" stroke-width="1"/>
<rect x="892.5" y="351.5" width="4" height="29" fill="#0000ff" stroke="#0d3b24" stroke-width="1"/>
<line x1="901.5" y1="351.4" x2="901.5" y2="370.0" stroke="#b0b0b0" stroke-width="1"/>
<rect x="899.5" y="351.5" width="4" height="13" fill="#ff0000" stroke="#6b0000" stroke-width="1"/>
<line x1="908.5" y1="357.4" x2="908.5" y2="405.4" stroke="#b0b0b0" stroke-width="1"/>
<rect x="906.5" y="365.5" width="4" height="39" fill="#ff0000" stroke="#6b0000" stroke-width="1"/>
<line x1="916.5" y1="361.1" x2="916.5" y2="405.4" stroke="#b0b0b0" stroke-width="1"/>
<rect x="914.5" y="374.5" width="4" height="30" fill="#0000ff" stroke="#0d3b24" stroke-width="1"/>
<line x1="923.5" y1="333.1" x2="923.5" y2="374.5" stroke="#b0b0b0" stroke-width="1"/>
<rect x="921.5" y="351.5" width="4" height="23" fill="#0000ff" stroke="#0d3b24" stroke-width="1"/>
<line x1="930.5" y1="342.9" x2="930.5" y2="360.4" stroke="#b0b0b0" stroke-width="1"/>
<rect x="928.5" y="347.5" width="4" height="3" fill="#0000ff" stroke="#0d3b24" stroke-width="1"/>
<line x1="937.5" y1="347.0" x2="937.5" y2="364.1" stroke="#b0b0b0" stroke-width="1"/>
<rect x="935.5" y="347.5" width="4" height="12" fill="#ff0000" stroke="#6b0000" stroke-width="1"/>
<line x1="944.5" y1="347.7" x2="944.5" y2="389.0" stroke="#b0b0b0" stroke-width="1"/>
<rect x="942.5" y="360.5" width="4" height="8" fill="#ff0000" stroke="#6b0000" stroke-width="1"/>
<line x1="952.5" y1="349.2" x2="952.5" y2="379.8" stroke="#b0b0b0" stroke-width="1"/>
<rect x="950.5" y="356.5" width="4" height="12" fill="#0000ff" stroke="#0d3b24" stroke-width="1"/>
<line x1="959.5" y1="323.1" x2="959.5" y2="355.5" stroke="#b0b0b0" stroke-width="1"/>
<rect x="957.5" y="330.5" width="4" height="25" fill="#0000ff" stroke="#0d3b24" stroke-width="1"/>
<line x1="966.5" y1="322.1" x2="966.5" y2="334.6" stroke="#b0b0b0" stroke-width="1"/>
<rect x="964.5" y="327.5" width="4" height="2" fill="#0000ff" stroke="#0d3b24" stroke-width="1"/>
<line x1="973.5" y1="326.8" x2="973.5" y2="361.1" stroke="#b0b0b0" stroke-width="1"/>
<rect x="971.5" y="327.5" width="4" height="6" fill="#ff0000" stroke="#6b0000" stroke-width="1"/>
<line x1="981.5" y1="322.1" x2="981.5" y2="347.7" stroke="#b0b0b0" stroke-width="1"/>
<rect x="979.5" y="331.5" width="4" height="2" fill="#0000ff" stroke="#0d3b24" stroke-width="1"/>
<line x1="988.5" y1="319.8" x2="988.5" y2="338.8" stroke="#b0b0b0" stroke-width="1"/>
<rect x="986.5" y="327.5" width="4" height="3" fill="#0000ff" stroke="#0d3b24" stroke-width="1"/>
<line x1="995.5" y1="205.6" x2="995.5" y2="326.8" stroke="#b0b0b0" stroke-width="1"/>
<rect x="993.5" y="258.5" width="4" height="68" fill="#0000ff" stroke="#0d3b24" stroke-width="1"/>
<line x1="1002.5" y1="128.6" x2="1002.5" y2="278.3" stroke="#b0b0b0" stroke-width="1"/>
<rect x="1000.5" y="163.5" width="4" height="92" fill="#0000ff" stroke="#0d3b24" stroke-width="1"/>
<line x1="1010.5" y1="106.1" x2="1010.5" y2="197.2" stroke="#b0b0b0" stroke-width="1"/>
<rect x="1008.5" y="163.5" width="4" height="31" fill="#ff0000" stroke="#6b0000" stroke-width="1"/>
<line x1="1017.5" y1="186.1" x2="1017.5" y2="198.0" stroke="#b0b0b0" stroke-width="1"/>
<rect x="1015.5" y="186.5" width="4" height="9" fill="#0000ff" stroke="#0d3b24" stroke-width="1"/>
<line x1="1024.5" y1="184.8" x2="1024.5" y2="260.4" stroke="#b0b0b0" stroke-width="1"/>
<rect x="1022.5" y="186.5" width="4" height="42" fill="#ff0000" stroke="#6b0000" stroke-width="1"/>
<line x1="1031.5" y1="201.0" x2="1031.5" y2="260.4" stroke="#b0b0b0" stroke-width="1"/>
<rect x="1029.5" y="229.5" width="4" height="31" fill="#ff0000" stroke="#6b0000" stroke-width="1"/>
<line x1="1038.5" y1="251.4" x2="1038.5" y2="300.2" stroke="#b0b0b0" stroke-width="1"/>
<rect x="1036.5" y="260.5" width="4" height="39" fill="#ff0000" stroke="#6b0000" stroke-width="1"/>
<line x1="1046.5" y1="300.2" x2="1046.5" y2="380.5" stroke="#b0b0b0" stroke-width="1"/>
<rect x="1044.5" y="300.5" width="4" height="33" fill="#ff0000" stroke="#6b0000" stroke-width="1"/>
<line x1="1053.5" y1="311.8" x2="1053.5" y2="335.5" stroke="#b0b0b0" stroke-width="1"/>
<rect x="1051.5" y="322.5" width="4" height="12" fill="#0000ff" stroke="#0d3b24" stroke-width="1"/>
<line x1="1060.5" y1="285.3" x2="1060.5" y2="322.4" stroke="#b0b0b0" stroke-width="1"/>
<rect x="1058.5" y="285.5" width="4" height="36" fill="#0000ff" stroke="#0d3b24" stroke-width="1"/>
<line x1="1067.5" y1="279.0" x2="1067.5" y2="308.0" stroke="#b0b0b0" stroke-width="1"/>
<rect x="1065.5" y="285.5" width="4" height="8" fill="#ff0000" stroke="#6b0000" stroke-width="1"/>
<line x1="1075.5" y1="277.2" x2="1075.5" y2="302.6" stroke="#b0b0b0" stroke-width="1"/>
<rect x="1073.5" y="289.5" width="4" height="4" fill="#0000ff" stroke="#0d3b24" stroke-width="1"/>
<line x1="1082.5" y1="271.6" x2="1082.5" y2="304.4" stroke="#b0b0b0" stroke-width="1"/>
<rect x="1080.5" y="272.5" width="4" height="15" fill="#0000ff" stroke="#0d3b24" stroke-width="1"/>
<line x1="1089.5" y1="230.6" x2="1089.5" y2="271.6" stroke="#b0b0b0" stroke-width="1"/>
<rect x="1087.5" y="258.5" width="4" height="12" fill="#0000ff" stroke="#0d3b24" stroke-width="1"/>
<line x1="1096.5" y1="241.0" x2="1096.5" y2="270.0" stroke="#b0b0b0" stroke-width="1"/>
<rect x="1094.5" y="251.5" width="4" height="7" fill="#0000ff" stroke="#0d3b24" stroke-width="1"/>
</g>
</svg>
<g shape-rendering="crispEdges">
<line x1="8.00" y1="32.60" x2="1679.50" y2="32.60" stroke="#ff0000" stroke-width="2" />
<line x1="8.00" y1="107.20" x2="1679.50" y2="107.20" stroke="#ff0000" stroke-width="2" />
<line x1="864.00" y1="171.20" x2="1679.50" y2="171.20" stroke="#ff0000" stroke-width="2" />
<line x1="936.00" y1="243.60" x2="1679.50" y2="243.60" stroke="#ff0000" stroke-width="2" />
<line x1="8.00" y1="438.20" x2="1679.50" y2="438.20" stroke="#2e9e36" stroke-width="2" />
<line x1="8.00" y1="506.60" x2="1679.50" y2="506.60" stroke="#2e9e36" stroke-width="2" />
</g>
<line x1="1009.50" y1="41.40" x2="1675.00" y2="41.40" stroke="#9c27b0" stroke-width="1.2" stroke-dasharray="5.1 5.388"/>
<line x1="1009.50" y1="106.20" x2="1675.00" y2="106.20" stroke="#64b5f6" stroke-width="1.2" stroke-dasharray="5.1 5.388"/>
<line x1="1009.50" y1="210.70" x2="1675.00" y2="210.70" stroke="#26c6a0" stroke-width="1.2" stroke-dasharray="5.1 5.388"/>
<line x1="1009.50" y1="243.20" x2="1675.00" y2="243.20" stroke="#3d2430" stroke-width="1.2" stroke-dasharray="5.1 5.388"/>
<line x1="1009.50" y1="315.40" x2="1675.00" y2="315.40" stroke="#e53935" stroke-width="1.2" stroke-dasharray="5.1 5.388"/>
<line x1="1009.50" y1="380.40" x2="1675.00" y2="380.40" stroke="#8a8d96" stroke-width="1.2" stroke-dasharray="5.1 5.388"/>
<line x1="1010.00" y1="106.40" x2="1045.70" y2="380.40" stroke="#888888" stroke-width="1" stroke-dasharray="4 3"/>
<line x1="141.10" y1="31.70" x2="1074.80" y2="345.50" stroke="#0000ff" stroke-width="3.2" stroke-linecap="round"/>
<text x="1671.20" y="32.60" fill="#9c27b0" font-size="11.2" text-anchor="end" font-weight="normal" textLength="82.30" lengthAdjust="spacingAndGlyphs" stroke="#9c27b0" stroke-width="0.3" >1.236 (4,485.40)</text>
<text x="1671.20" y="98.10" fill="#64b5f6" font-size="11.2" text-anchor="end" font-weight="normal" textLength="60.60" lengthAdjust="spacingAndGlyphs" stroke="#64b5f6" stroke-width="0.3" >1 (4,450.00)</text>
<text x="1671.20" y="162.90" fill="#d81b2c" font-size="11.2" text-anchor="end" font-weight="normal" textLength="84.00" lengthAdjust="spacingAndGlyphs" stroke="#d81b2c" stroke-width="0.3" >0.764 (4,414.60)</text>
<text x="1671.20" y="203.00" fill="#26c69a" font-size="11.2" text-anchor="end" font-weight="normal" textLength="84.00" lengthAdjust="spacingAndGlyphs" stroke="#26c69a" stroke-width="0.3" >0.618 (4,392.70)</text>
<text x="1671.20" y="235.30" fill="#4a2040" font-size="11.2" text-anchor="end" font-weight="normal" textLength="71.70" lengthAdjust="spacingAndGlyphs" stroke="#4a2040" stroke-width="0.3" >0.5 (4,375.00)</text>
<text x="1671.20" y="307.70" fill="#d81b2c" font-size="11.2" text-anchor="end" font-weight="normal" textLength="84.00" lengthAdjust="spacingAndGlyphs" stroke="#d81b2c" stroke-width="0.3" >0.236 (4,335.40)</text>
<text x="1671.20" y="372.50" fill="#787b86" font-size="11.2" text-anchor="end" font-weight="normal" textLength="61.80" lengthAdjust="spacingAndGlyphs" stroke="#787b86" stroke-width="0.3" >0 (4,300.00)</text>
<polyline points="7.50,626.00 26.75,625.50 35.00,627.50 57.50,631.00 65.00,630.50 85.00,623.00 105.00,608.00 120.00,600.50 136.25,592.50 150.00,594.25 175.00,596.00 186.25,596.00 200.00,602.25 217.50,608.50 236.25,616.00 250.00,614.25 270.00,613.00 287.50,614.25 312.50,615.50 325.00,617.25 350.00,620.00 380.00,621.00 395.00,618.50 425.00,613.00 436.00,611.75 451.00,607.50 468.50,603.75 483.50,601.00 496.00,601.00 518.50,604.75 548.50,603.00 576.00,603.00 598.50,603.00 616.00,600.50 636.00,596.00 653.50,595.00 661.00,592.50 669.75,588.50 686.00,588.75 706.00,589.75 718.50,589.00 736.00,594.25 756.00,599.75 771.00,603.75 786.00,600.50 806.00,595.00 828.60,590.80 849.00,593.50 872.30,599.50 887.50,605.50 907.50,612.50 928.75,616.00 950.00,611.75 970.00,604.25 990.00,598.00 1000.00,592.50 1017.50,581.75 1032.50,579.75 1047.50,580.50 1065.00,582.25 1082.50,583.00 1095.50,584.25" fill="none" stroke="#f8e33c" stroke-width="1.2" stroke-linejoin="round" stroke-linecap="round" />
<polyline points="7.50,643.50 12.50,629.25 19.50,620.00 26.75,610.50 34.25,628.00 40.50,626.00 48.25,614.25 55.50,613.75 62.50,611.25 70.00,608.50 77.00,605.50 84.50,610.00 91.25,569.25 98.75,575.50 105.50,581.75 113.00,576.00 120.50,573.00 128.00,556.00 135.00,571.75 142.00,631.25 149.50,629.25 156.25,623.00 163.75,624.75 171.25,616.75 178.00,610.50 185.50,606.75 192.50,619.25 200.00,613.00 207.00,615.50 214.25,609.25 221.25,610.00 228.75,609.25 235.75,610.00 243.00,615.00 250.75,621.00 257.50,616.75 265.00,611.25 272.00,611.75 279.50,619.25 286.75,616.00 293.75,617.50 301.25,617.25 308.25,620.50 315.75,619.25 323.00,633.50 330.00,617.25 337.50,628.00 344.50,621.75 352.00,634.75 359.25,616.75 366.25,613.50 373.75,616.75 380.50,618.50 388.00,610.50 395.00,603.00 402.50,599.75 410.00,601.00 416.75,598.00 424.25,603.75 431.25,613.50 436.00,607.50 445.50,594.25 453.00,602.25 460.50,595.00 467.25,591.75 474.75,601.00 481.50,596.25 489.00,602.25 496.75,603.00 503.50,616.75 511.00,623.50 518.50,616.00 525.50,606.75 532.25,597.25 539.75,607.25 547.25,588.50 554.25,593.50 561.75,599.25 568.50,606.75 576.00,591.00 583.00,588.75 590.50,602.50 598.00,603.50 604.75,606.00 612.25,611.25 619.25,598.00 626.50,582.50 633.50,573.50 641.00,592.25 648.50,586.00 655.25,587.50 662.75,565.50 669.75,551.75 677.25,584.25 684.75,604.25 691.50,591.75 699.00,617.25 706.00,610.50 713.50,598.00 720.50,603.50 727.75,605.50 735.25,608.50 742.25,618.00 749.75,614.25 756.50,602.50 764.00,598.50 771.00,596.00 778.50,570.50 786.00,573.50 792.75,575.00 800.25,576.25 807.00,583.00 814.50,583.00 822.00,584.60 829.00,586.25 836.50,618.00 843.20,631.00 850.50,630.00 857.70,632.50 865.20,628.50 872.00,621.00 879.25,613.75 886.25,615.50 893.25,601.00 900.75,607.50 908.00,623.75 915.00,609.25 922.50,598.75 929.25,596.75 936.75,602.50 943.75,607.50 951.25,600.50 958.25,588.50 965.50,587.25 973.25,591.25 980.50,589.75 988.00,588.00 995.00,559.25 1002.00,536.75 1009.50,554.25 1016.75,552.50 1023.75,573.75 1031.25,589.25 1038.25,601.75 1045.50,613.50 1052.50,608.50 1060.00,595.50 1067.00,599.25 1074.50,597.50 1081.75,591.75 1088.75,586.75 1095.50,584.25" fill="none" stroke="#9427ae" stroke-width="1.3" stroke-linejoin="round" stroke-linecap="round" />
<g shape-rendering="crispEdges">
<line x1="12.50" y1="691.50" x2="12.50" y2="707.00" stroke="#ffcdd2" stroke-width="1" />
<line x1="19.50" y1="691.50" x2="19.50" y2="702.50" stroke="#ffcdd2" stroke-width="1" />
<line x1="27.50" y1="691.50" x2="27.50" y2="696.25" stroke="#ffcdd2" stroke-width="1" />
<line x1="34.50" y1="691.50" x2="34.50" y2="696.25" stroke="#ffcdd2" stroke-width="1" />
<line x1="41.50" y1="691.50" x2="41.50" y2="693.75" stroke="#ffcdd2" stroke-width="1" />
<line x1="48.50" y1="691.50" x2="48.50" y2="692.50" stroke="#ffcdd2" stroke-width="1" />
<line x1="56.50" y1="691.50" x2="56.50" y2="689.50" stroke="#26a69a" stroke-width="1" />
<line x1="63.50" y1="691.50" x2="63.50" y2="687.50" stroke="#26a69a" stroke-width="1" />
<line x1="70.50" y1="691.50" x2="70.50" y2="686.75" stroke="#26a69a" stroke-width="1" />
<line x1="77.50" y1="691.50" x2="77.50" y2="685.00" stroke="#26a69a" stroke-width="1" />
<line x1="85.50" y1="691.50" x2="85.50" y2="685.00" stroke="#26a69a" stroke-width="1" />
<line x1="92.50" y1="691.50" x2="92.50" y2="678.00" stroke="#26a69a" stroke-width="1" />
<line x1="99.50" y1="691.50" x2="99.50" y2="675.50" stroke="#26a69a" stroke-width="1" />
<line x1="106.50" y1="691.50" x2="106.50" y2="676.25" stroke="#26a69a" stroke-width="1" />
<line x1="113.50" y1="691.50" x2="113.50" y2="678.00" stroke="#26a69a" stroke-width="1" />
<line x1="121.50" y1="691.50" x2="121.50" y2="678.00" stroke="#26a69a" stroke-width="1" />
<line x1="128.50" y1="691.50" x2="128.50" y2="677.50" stroke="#26a69a" stroke-width="1" />
<line x1="135.50" y1="691.50" x2="135.50" y2="672.50" stroke="#b2dfdb" stroke-width="1" />
<line x1="142.50" y1="691.50" x2="142.50" y2="686.25" stroke="#b2dfdb" stroke-width="1" />
<line x1="150.50" y1="691.50" x2="150.50" y2="696.25" stroke="#ff5252" stroke-width="1" />
<line x1="157.50" y1="691.50" x2="157.50" y2="701.25" stroke="#ff5252" stroke-width="1" />
<line x1="164.50" y1="691.50" x2="164.50" y2="703.75" stroke="#ff5252" stroke-width="1" />
<line x1="171.50" y1="691.50" x2="171.50" y2="702.50" stroke="#ffcdd2" stroke-width="1" />
<line x1="178.50" y1="691.50" x2="178.50" y2="700.00" stroke="#ffcdd2" stroke-width="1" />
<line x1="186.50" y1="691.50" x2="186.50" y2="697.00" stroke="#ffcdd2" stroke-width="1" />
<line x1="193.50" y1="691.50" x2="193.50" y2="698.75" stroke="#ff5252" stroke-width="1" />
<line x1="200.50" y1="691.50" x2="200.50" y2="697.50" stroke="#ffcdd2" stroke-width="1" />
<line x1="207.50" y1="691.50" x2="207.50" y2="696.25" stroke="#ffcdd2" stroke-width="1" />
<line x1="215.50" y1="691.50" x2="215.50" y2="694.00" stroke="#ffcdd2" stroke-width="1" />
<line x1="222.50" y1="691.50" x2="222.50" y2="693.00" stroke="#ffcdd2" stroke-width="1" />
<line x1="229.50" y1="691.50" x2="229.50" y2="692.50" stroke="#ffcdd2" stroke-width="1" />
<line x1="236.50" y1="691.50" x2="236.50" y2="692.50" stroke="#ffcdd2" stroke-width="1" />
<line x1="243.50" y1="691.50" x2="243.50" y2="693.00" stroke="#ff5252" stroke-width="1" />
<line x1="251.50" y1="691.50" x2="251.50" y2="694.00" stroke="#ff5252" stroke-width="1" />
<line x1="258.50" y1="691.50" x2="258.50" y2="693.00" stroke="#ffcdd2" stroke-width="1" />
<line x1="265.50" y1="691.50" x2="265.50" y2="692.00" stroke="#ffcdd2" stroke-width="1" />
<line x1="287.50" y1="691.50" x2="287.50" y2="692.50" stroke="#b2dfdb" stroke-width="1" />
<line x1="294.50" y1="691.50" x2="294.50" y2="692.50" stroke="#b2dfdb" stroke-width="1" />
<line x1="301.50" y1="691.50" x2="301.50" y2="692.50" stroke="#26a69a" stroke-width="1" />
<line x1="309.50" y1="691.50" x2="309.50" y2="692.50" stroke="#ffcdd2" stroke-width="1" />
<line x1="316.50" y1="691.50" x2="316.50" y2="692.50" stroke="#ffcdd2" stroke-width="1" />
<line x1="323.50" y1="691.50" x2="323.50" y2="694.00" stroke="#ff5252" stroke-width="1" />
<line x1="330.50" y1="691.50" x2="330.50" y2="693.00" stroke="#ffcdd2" stroke-width="1" />
<line x1="337.50" y1="691.50" x2="337.50" y2="693.00" stroke="#ffcdd2" stroke-width="1" />
<line x1="352.50" y1="691.50" x2="352.50" y2="694.00" stroke="#ff5252" stroke-width="1" />
<line x1="359.50" y1="691.50" x2="359.50" y2="693.00" stroke="#ffcdd2" stroke-width="1" />
<line x1="366.50" y1="691.50" x2="366.50" y2="692.50" stroke="#ffcdd2" stroke-width="1" />
<line x1="381.50" y1="691.50" x2="381.50" y2="692.50" stroke="#b2dfdb" stroke-width="1" />
<line x1="388.50" y1="691.50" x2="388.50" y2="690.50" stroke="#26a69a" stroke-width="1" />
<line x1="395.50" y1="691.50" x2="395.50" y2="688.00" stroke="#26a69a" stroke-width="1" />
<line x1="402.50" y1="691.50" x2="402.50" y2="687.00" stroke="#26a69a" stroke-width="1" />
<line x1="410.50" y1="691.50" x2="410.50" y2="688.00" stroke="#b2dfdb" stroke-width="1" />
<line x1="417.50" y1="691.50" x2="417.50" y2="686.50" stroke="#26a69a" stroke-width="1" />
<line x1="424.50" y1="691.50" x2="424.50" y2="688.00" stroke="#b2dfdb" stroke-width="1" />
<line x1="431.50" y1="691.50" x2="431.50" y2="689.00" stroke="#b2dfdb" stroke-width="1" />
<line x1="439.50" y1="691.50" x2="439.50" y2="687.50" stroke="#b2dfdb" stroke-width="1" />
<line x1="446.50" y1="691.50" x2="446.50" y2="686.25" stroke="#26a69a" stroke-width="1" />
<line x1="453.50" y1="691.50" x2="453.50" y2="686.25" stroke="#b2dfdb" stroke-width="1" />
<line x1="460.50" y1="691.50" x2="460.50" y2="686.25" stroke="#26a69a" stroke-width="1" />
<line x1="468.50" y1="691.50" x2="468.50" y2="686.25" stroke="#26a69a" stroke-width="1" />
<line x1="475.50" y1="691.50" x2="475.50" y2="688.50" stroke="#b2dfdb" stroke-width="1" />
<line x1="482.50" y1="691.50" x2="482.50" y2="687.50" stroke="#b2dfdb" stroke-width="1" />
<line x1="489.50" y1="691.50" x2="489.50" y2="689.00" stroke="#b2dfdb" stroke-width="1" />
<line x1="496.50" y1="691.50" x2="496.50" y2="690.00" stroke="#b2dfdb" stroke-width="1" />
<line x1="504.50" y1="691.50" x2="504.50" y2="692.50" stroke="#ffcdd2" stroke-width="1" />
<line x1="511.50" y1="691.50" x2="511.50" y2="693.00" stroke="#ff5252" stroke-width="1" />
<line x1="518.50" y1="691.50" x2="518.50" y2="692.50" stroke="#ffcdd2" stroke-width="1" />
<line x1="525.50" y1="691.50" x2="525.50" y2="692.50" stroke="#ffcdd2" stroke-width="1" />
<line x1="533.50" y1="691.50" x2="533.50" y2="692.50" stroke="#ffcdd2" stroke-width="1" />
<line x1="540.50" y1="691.50" x2="540.50" y2="692.50" stroke="#b2dfdb" stroke-width="1" />
<line x1="547.50" y1="691.50" x2="547.50" y2="689.50" stroke="#26a69a" stroke-width="1" />
<line x1="554.50" y1="691.50" x2="554.50" y2="689.00" stroke="#26a69a" stroke-width="1" />
<line x1="561.50" y1="691.50" x2="561.50" y2="690.00" stroke="#b2dfdb" stroke-width="1" />
<line x1="569.50" y1="691.50" x2="569.50" y2="690.50" stroke="#b2dfdb" stroke-width="1" />
<line x1="576.50" y1="691.50" x2="576.50" y2="690.00" stroke="#b2dfdb" stroke-width="1" />
<line x1="583.50" y1="691.50" x2="583.50" y2="689.50" stroke="#26a69a" stroke-width="1" />
<line x1="590.50" y1="691.50" x2="590.50" y2="690.00" stroke="#b2dfdb" stroke-width="1" />
<line x1="598.50" y1="691.50" x2="598.50" y2="690.50" stroke="#b2dfdb" stroke-width="1" />
<line x1="605.50" y1="691.50" x2="605.50" y2="691.00" stroke="#b2dfdb" stroke-width="1" />
<line x1="612.50" y1="691.50" x2="612.50" y2="692.50" stroke="#ffcdd2" stroke-width="1" />
<line x1="619.50" y1="691.50" x2="619.50" y2="692.50" stroke="#ffcdd2" stroke-width="1" />
<line x1="627.50" y1="691.50" x2="627.50" y2="690.00" stroke="#b2dfdb" stroke-width="1" />
<line x1="634.50" y1="691.50" x2="634.50" y2="687.50" stroke="#26a69a" stroke-width="1" />
<line x1="641.50" y1="691.50" x2="641.50" y2="688.50" stroke="#b2dfdb" stroke-width="1" />
<line x1="648.50" y1="691.50" x2="648.50" y2="688.00" stroke="#26a69a" stroke-width="1" />
<line x1="655.50" y1="691.50" x2="655.50" y2="689.00" stroke="#b2dfdb" stroke-width="1" />
<line x1="663.50" y1="691.50" x2="663.50" y2="686.25" stroke="#26a69a" stroke-width="1" />
<line x1="670.50" y1="691.50" x2="670.50" y2="683.00" stroke="#26a69a" stroke-width="1" />
<line x1="677.50" y1="691.50" x2="677.50" y2="684.50" stroke="#b2dfdb" stroke-width="1" />
<line x1="684.50" y1="691.50" x2="684.50" y2="687.00" stroke="#b2dfdb" stroke-width="1" />
<line x1="692.50" y1="691.50" x2="692.50" y2="688.00" stroke="#b2dfdb" stroke-width="1" />
<line x1="699.50" y1="691.50" x2="699.50" y2="693.75" stroke="#ff5252" stroke-width="1" />
<line x1="706.50" y1="691.50" x2="706.50" y2="695.50" stroke="#ff5252" stroke-width="1" />
<line x1="713.50" y1="691.50" x2="713.50" y2="693.75" stroke="#ffcdd2" stroke-width="1" />
<line x1="720.50" y1="691.50" x2="720.50" y2="694.50" stroke="#ff5252" stroke-width="1" />
<line x1="728.50" y1="691.50" x2="728.50" y2="694.50" stroke="#ff5252" stroke-width="1" />
<line x1="735.50" y1="691.50" x2="735.50" y2="695.50" stroke="#ff5252" stroke-width="1" />
<line x1="742.50" y1="691.50" x2="742.50" y2="697.50" stroke="#ff5252" stroke-width="1" />
<line x1="749.50" y1="691.50" x2="749.50" y2="697.50" stroke="#ff5252" stroke-width="1" />
<line x1="757.50" y1="691.50" x2="757.50" y2="695.00" stroke="#ffcdd2" stroke-width="1" />
<line x1="764.50" y1="691.50" x2="764.50" y2="693.75" stroke="#ffcdd2" stroke-width="1" />
<line x1="771.50" y1="691.50" x2="771.50" y2="689.50" stroke="#b2dfdb" stroke-width="1" />
<line x1="778.50" y1="691.50" x2="778.50" y2="687.00" stroke="#26a69a" stroke-width="1" />
<line x1="786.50" y1="691.50" x2="786.50" y2="684.50" stroke="#26a69a" stroke-width="1" />
<line x1="793.50" y1="691.50" x2="793.50" y2="683.75" stroke="#26a69a" stroke-width="1" />
<line x1="800.50" y1="691.50" x2="800.50" y2="684.50" stroke="#26a69a" stroke-width="1" />
<line x1="807.50" y1="691.50" x2="807.50" y2="685.00" stroke="#b2dfdb" stroke-width="1" />
<line x1="814.50" y1="691.50" x2="814.50" y2="686.25" stroke="#b2dfdb" stroke-width="1" />
<line x1="822.50" y1="691.50" x2="822.50" y2="687.00" stroke="#b2dfdb" stroke-width="1" />
<line x1="829.50" y1="691.50" x2="829.50" y2="688.75" stroke="#b2dfdb" stroke-width="1" />
<line x1="836.50" y1="691.50" x2="836.50" y2="692.50" stroke="#ffcdd2" stroke-width="1" />
<line x1="843.50" y1="691.50" x2="843.50" y2="698.00" stroke="#ff5252" stroke-width="1" />
<line x1="851.50" y1="691.50" x2="851.50" y2="699.50" stroke="#ff5252" stroke-width="1" />
<line x1="858.50" y1="691.50" x2="858.50" y2="701.75" stroke="#ff5252" stroke-width="1" />
<line x1="865.50" y1="691.50" x2="865.50" y2="701.75" stroke="#ff5252" stroke-width="1" />
<line x1="872.50" y1="691.50" x2="872.50" y2="698.00" stroke="#ffcdd2" stroke-width="1" />
<line x1="879.50" y1="691.50" x2="879.50" y2="696.25" stroke="#ffcdd2" stroke-width="1" />
<line x1="887.50" y1="691.50" x2="887.50" y2="694.50" stroke="#ffcdd2" stroke-width="1" />
<line x1="894.50" y1="691.50" x2="894.50" y2="693.50" stroke="#ffcdd2" stroke-width="1" />
<line x1="901.50" y1="691.50" x2="901.50" y2="693.00" stroke="#ffcdd2" stroke-width="1" />
<line x1="908.50" y1="691.50" x2="908.50" y2="696.25" stroke="#ff5252" stroke-width="1" />
<line x1="916.50" y1="691.50" x2="916.50" y2="694.50" stroke="#ffcdd2" stroke-width="1" />
<line x1="923.50" y1="691.50" x2="923.50" y2="692.50" stroke="#ffcdd2" stroke-width="1" />
<line x1="930.50" y1="691.50" x2="930.50" y2="690.00" stroke="#26a69a" stroke-width="1" />
<line x1="937.50" y1="691.50" x2="937.50" y2="689.25" stroke="#26a69a" stroke-width="1" />
<line x1="944.50" y1="691.50" x2="944.50" y2="690.50" stroke="#b2dfdb" stroke-width="1" />
<line x1="952.50" y1="691.50" x2="952.50" y2="689.25" stroke="#26a69a" stroke-width="1" />
<line x1="959.50" y1="691.50" x2="959.50" y2="688.25" stroke="#26a69a" stroke-width="1" />
<line x1="966.50" y1="691.50" x2="966.50" y2="687.00" stroke="#26a69a" stroke-width="1" />
<line x1="973.50" y1="691.50" x2="973.50" y2="687.50" stroke="#b2dfdb" stroke-width="1" />
<line x1="981.50" y1="691.50" x2="981.50" y2="688.00" stroke="#b2dfdb" stroke-width="1" />
<line x1="988.50" y1="691.50" x2="988.50" y2="687.00" stroke="#26a69a" stroke-width="1" />
<line x1="995.50" y1="691.50" x2="995.50" y2="684.50" stroke="#26a69a" stroke-width="1" />
<line x1="1002.50" y1="691.50" x2="1002.50" y2="679.25" stroke="#26a69a" stroke-width="1" />
<line x1="1010.50" y1="691.50" x2="1010.50" y2="677.00" stroke="#26a69a" stroke-width="1" />
<line x1="1017.50" y1="691.50" x2="1017.50" y2="677.00" stroke="#26a69a" stroke-width="1" />
<line x1="1024.50" y1="691.50" x2="1024.50" y2="678.75" stroke="#b2dfdb" stroke-width="1" />
<line x1="1031.50" y1="691.50" x2="1031.50" y2="683.00" stroke="#b2dfdb" stroke-width="1" />
<line x1="1038.50" y1="691.50" x2="1038.50" y2="687.50" stroke="#b2dfdb" stroke-width="1" />
<line x1="1046.50" y1="691.50" x2="1046.50" y2="692.50" stroke="#ff5252" stroke-width="1" />
<line x1="1053.50" y1="691.50" x2="1053.50" y2="695.50" stroke="#ff5252" stroke-width="1" />
<line x1="1060.50" y1="691.50" x2="1060.50" y2="694.50" stroke="#ffcdd2" stroke-width="1" />
<line x1="1067.50" y1="691.50" x2="1067.50" y2="695.50" stroke="#ff5252" stroke-width="1" />
<line x1="1075.50" y1="691.50" x2="1075.50" y2="694.50" stroke="#ffcdd2" stroke-width="1" />
<line x1="1082.50" y1="691.50" x2="1082.50" y2="693.00" stroke="#ffcdd2" stroke-width="1" />
<line x1="1089.50" y1="691.50" x2="1089.50" y2="692.50" stroke="#ffcdd2" stroke-width="1" />
<line x1="1096.50" y1="691.50" x2="1096.50" y2="692.50" stroke="#ffcdd2" stroke-width="1" />
</g>
<polyline points="7.50,712.50 20.00,717.00 32.50,719.50 42.50,720.50 57.50,720.00 70.00,718.00 82.50,715.00 100.00,706.25 117.50,696.25 135.00,684.50 142.50,683.00 152.50,686.25 170.00,693.75 190.00,699.25 212.50,702.50 237.50,704.25 262.50,705.75 287.50,705.75 312.50,706.25 337.50,707.00 362.50,708.75 382.50,708.75 400.00,706.25 425.00,702.00 436.00,700.50 451.00,698.00 466.00,695.50 481.00,693.25 498.50,692.00 516.00,692.50 536.00,693.00 561.00,691.25 586.00,690.00 611.00,690.00 636.00,688.75 656.00,686.25 676.00,682.00 693.50,680.00 706.00,681.75 723.50,683.75 741.00,686.75 756.00,688.75 771.00,689.50 786.00,686.25 806.00,682.00 821.00,680.00 831.00,679.25 850.00,684.50 872.50,690.50 887.50,693.25 907.50,695.00 922.50,696.25 950.00,695.00 975.00,692.50 990.00,690.75 1000.00,686.25 1015.00,679.50 1030.00,675.00 1041.25,673.25 1050.00,674.50 1070.00,677.00 1085.00,678.75 1096.25,679.25" fill="none" stroke="#ff6d00" stroke-width="1.3" stroke-linejoin="round" stroke-linecap="round" />
<polyline points="7.50,729.25 18.75,727.50 27.00,723.00 33.75,723.75 41.25,723.75 50.00,720.50 62.50,715.50 77.50,710.00 85.00,708.00 92.00,698.75 100.00,690.50 115.00,680.00 128.00,667.50 135.00,664.50 142.50,680.00 150.00,692.50 157.50,698.75 165.00,703.75 172.50,705.50 178.75,705.00 185.50,703.75 192.50,706.75 200.00,707.00 207.50,708.25 217.50,706.75 235.00,705.00 250.00,706.75 257.50,707.00 272.50,705.75 287.50,706.75 302.50,706.25 315.00,706.75 322.50,708.00 330.00,707.50 345.00,708.75 352.50,711.25 360.00,710.50 367.50,708.75 382.50,708.00 390.00,706.25 405.00,701.25 420.00,697.00 430.00,696.25 436.00,695.75 446.00,694.25 453.50,693.75 461.00,691.75 468.50,690.75 481.00,690.00 496.00,690.00 511.00,693.75 518.50,694.50 526.00,693.75 541.00,692.50 548.50,690.75 556.00,690.00 563.50,690.00 571.00,690.75 583.50,688.00 596.00,688.75 611.00,690.00 621.00,690.00 633.50,685.75 648.50,684.50 656.00,683.75 669.75,675.50 677.25,675.50 684.75,678.00 691.00,678.25 698.50,682.50 706.00,685.75 713.50,685.75 721.00,686.75 736.00,689.50 743.50,692.50 749.75,694.25 756.00,693.75 764.00,692.50 771.00,690.75 778.50,685.00 786.00,681.25 798.50,677.00 813.50,676.25 828.50,676.75 836.00,680.50 843.50,686.25 851.00,692.50 858.00,696.00 865.50,698.25 872.50,699.25 886.25,699.25 893.75,698.00 900.00,697.50 908.75,699.25 915.00,698.75 922.50,697.00 930.00,695.00 937.50,694.25 950.00,693.75 960.00,691.25 972.50,688.75 987.50,686.75 995.00,682.50 1002.50,673.75 1010.00,668.75 1016.25,665.00 1023.75,664.50 1032.50,666.25 1040.00,670.00 1050.00,677.00 1060.00,679.50 1075.00,681.25 1085.00,680.75 1096.25,679.25" fill="none" stroke="#2962ff" stroke-width="1.3" stroke-linejoin="round" stroke-linecap="round" />
<g transform="translate(1096.1,517.5)"><path d="M -8.94 -2.9 A 9.4 9.4 0 1 1 -6.98 6.29" fill="none" stroke="#9c27b0" stroke-width="1.3"/><path d="M 3.2 -5.4 L -3.7 0.9 L -0.1 0.9 L -2.8 5.4 L 4.0 -0.9 L 0.4 -0.9 Z" fill="#9c27b0" stroke="#9c27b0" stroke-width="0.5" stroke-linejoin="round"/></g>
<path d="M 1086 516.2 Q 1086.9 519.8 1090.5 520.7 Q 1086.9 521.6 1086 525.2 Q 1085.1 521.6 1081.5 520.7 Q 1085.1 519.8 1086 516.2 Z" fill="#7c4dff"/>
<g shape-rendering="crispEdges">
<line x1="1679.50" y1="2.50" x2="1679.50" y2="760.50" stroke="#5d5d60" stroke-width="1" />
<line x1="7.00" y1="734.50" x2="1738.50" y2="734.50" stroke="#5d5d60" stroke-width="1" />
</g>
<clipPath id="pc"><rect x="1680" y="0" width="64" height="529"/></clipPath><g clip-path="url(#pc)">
<text x="1687.90" y="529.28" fill="#3d3f45" font-size="10.6" text-anchor="start" font-weight="normal" textLength="40.80" lengthAdjust="spacingAndGlyphs" stroke="#3d3f45" stroke-width="0.3" >4,220.00</text>
<text x="1687.90" y="492.69" fill="#3d3f45" font-size="10.6" text-anchor="start" font-weight="normal" textLength="40.80" lengthAdjust="spacingAndGlyphs" stroke="#3d3f45" stroke-width="0.3" >4,240.00</text>
<text x="1687.90" y="456.10" fill="#3d3f45" font-size="10.6" text-anchor="start" font-weight="normal" textLength="40.80" lengthAdjust="spacingAndGlyphs" stroke="#3d3f45" stroke-width="0.3" >4,260.00</text>
<text x="1687.90" y="419.50" fill="#3d3f45" font-size="10.6" text-anchor="start" font-weight="normal" textLength="40.80" lengthAdjust="spacingAndGlyphs" stroke="#3d3f45" stroke-width="0.3" >4,280.00</text>
<text x="1687.90" y="382.91" fill="#3d3f45" font-size="10.6" text-anchor="start" font-weight="normal" textLength="40.80" lengthAdjust="spacingAndGlyphs" stroke="#3d3f45" stroke-width="0.3" >4,300.00</text>
<text x="1687.90" y="346.32" fill="#3d3f45" font-size="10.6" text-anchor="start" font-weight="normal" textLength="40.80" lengthAdjust="spacingAndGlyphs" stroke="#3d3f45" stroke-width="0.3" >4,320.00</text>
<text x="1687.90" y="309.73" fill="#3d3f45" font-size="10.6" text-anchor="start" font-weight="normal" textLength="40.80" lengthAdjust="spacingAndGlyphs" stroke="#3d3f45" stroke-width="0.3" >4,340.00</text>
<text x="1687.90" y="273.14" fill="#3d3f45" font-size="10.6" text-anchor="start" font-weight="normal" textLength="40.80" lengthAdjust="spacingAndGlyphs" stroke="#3d3f45" stroke-width="0.3" >4,360.00</text>
<text x="1687.90" y="236.55" fill="#3d3f45" font-size="10.6" text-anchor="start" font-weight="normal" textLength="40.80" lengthAdjust="spacingAndGlyphs" stroke="#3d3f45" stroke-width="0.3" >4,380.00</text>
<text x="1687.90" y="199.95" fill="#3d3f45" font-size="10.6" text-anchor="start" font-weight="normal" textLength="40.80" lengthAdjust="spacingAndGlyphs" stroke="#3d3f45" stroke-width="0.3" >4,400.00</text>
<text x="1687.90" y="163.36" fill="#3d3f45" font-size="10.6" text-anchor="start" font-weight="normal" textLength="40.80" lengthAdjust="spacingAndGlyphs" stroke="#3d3f45" stroke-width="0.3" >4,420.00</text>
<text x="1687.90" y="126.77" fill="#3d3f45" font-size="10.6" text-anchor="start" font-weight="normal" textLength="40.80" lengthAdjust="spacingAndGlyphs" stroke="#3d3f45" stroke-width="0.3" >4,440.00</text>
<text x="1687.90" y="90.18" fill="#3d3f45" font-size="10.6" text-anchor="start" font-weight="normal" textLength="40.80" lengthAdjust="spacingAndGlyphs" stroke="#3d3f45" stroke-width="0.3" >4,460.00</text>
<text x="1687.90" y="53.59" fill="#3d3f45" font-size="10.6" text-anchor="start" font-weight="normal" textLength="40.80" lengthAdjust="spacingAndGlyphs" stroke="#3d3f45" stroke-width="0.3" >4,480.00</text>
</g>
<text x="1687.90" y="580.50" fill="#3d3f45" font-size="10.6" text-anchor="start" font-weight="normal" textLength="26.00" lengthAdjust="spacingAndGlyphs" stroke="#3d3f45" stroke-width="0.3" >60.00</text>
<text x="1687.90" y="630.00" fill="#3d3f45" font-size="10.6" text-anchor="start" font-weight="normal" textLength="26.00" lengthAdjust="spacingAndGlyphs" stroke="#3d3f45" stroke-width="0.3" >40.00</text>
<text x="1687.90" y="693.80" fill="#3d3f45" font-size="10.6" text-anchor="start" font-weight="normal" textLength="19.50" lengthAdjust="spacingAndGlyphs" stroke="#3d3f45" stroke-width="0.3" >0.00</text>
<text x="1688.00" y="725.40" fill="#3d3f45" font-size="10.6" text-anchor="start" font-weight="normal" textLength="31.40" lengthAdjust="spacingAndGlyphs" stroke="#3d3f45" stroke-width="0.3" >−25.00</text>
<path d="M 1680 26 H 1730.5 Q 1732.8 26 1732.8 28.3 V 39.300000000000004 Q 1732.8 41.6 1730.5 41.6 H 1680 Z" fill="#ff0000"/>
<text x="1687.80" y="37.60" fill="#ffffff" font-size="10.6" text-anchor="start" font-weight="bold" textLength="39.80" lengthAdjust="spacingAndGlyphs" >4,489.47</text>
<path d="M 1680 100.2 H 1730.5 Q 1732.8 100.2 1732.8 102.5 V 113.2 Q 1732.8 115.5 1730.5 115.5 H 1680 Z" fill="#ff0000"/>
<text x="1687.80" y="111.65" fill="#ffffff" font-size="10.6" text-anchor="start" font-weight="bold" textLength="39.80" lengthAdjust="spacingAndGlyphs" >4,448.95</text>
<path d="M 1680 164 H 1730.5 Q 1732.8 164 1732.8 166.3 V 177.29999999999998 Q 1732.8 179.6 1730.5 179.6 H 1680 Z" fill="#ff0000"/>
<text x="1687.80" y="175.60" fill="#ffffff" font-size="10.6" text-anchor="start" font-weight="bold" textLength="39.80" lengthAdjust="spacingAndGlyphs" >4,414.05</text>
<path d="M 1680 228.4 H 1730.5 Q 1732.8 228.4 1732.8 230.70000000000002 V 244.5 H 1680 Z" fill="#ff0000"/>
<text x="1687.80" y="240.25" fill="#ffffff" font-size="10.6" text-anchor="start" font-weight="bold" textLength="39.80" lengthAdjust="spacingAndGlyphs" >4,374.47</text>
<path d="M 1680 244.5 H 1732.8 V 268.4 Q 1732.8 270.7 1730.5 270.7 H 1680 Z" fill="#0000ff"/>
<text x="1687.80" y="254.60" fill="#ffffff" font-size="10.6" text-anchor="start" font-weight="bold" textLength="39.80" lengthAdjust="spacingAndGlyphs" >4,370.61</text>
<text x="1687.80" y="266.90" fill="#d8d8ff" font-size="10.6" text-anchor="start" font-weight="bold" textLength="26.00" lengthAdjust="spacingAndGlyphs" >31:40</text>
<path d="M 1680 430.5 H 1730.5 Q 1732.8 430.5 1732.8 432.8 V 443.7 Q 1732.8 446 1730.5 446 H 1680 Z" fill="#4caf50"/>
<text x="1687.80" y="442.05" fill="#ffffff" font-size="10.6" text-anchor="start" font-weight="bold" textLength="39.80" lengthAdjust="spacingAndGlyphs" >4,268.22</text>
<path d="M 1680 499.0 H 1730.5 Q 1732.8 499.0 1732.8 501.3 V 512.2 Q 1732.8 514.5 1730.5 514.5 H 1680 Z" fill="#4caf50"/>
<text x="1687.80" y="510.55" fill="#ffffff" font-size="10.6" text-anchor="start" font-weight="bold" textLength="39.80" lengthAdjust="spacingAndGlyphs" >4,230.60</text>
<rect x="1680" y="3" width="58" height="31.8" fill="#ffffff"/>
<rect x="1683.5" y="6.5" width="51" height="24.5" rx="4" fill="#ffffff" stroke="#e6e6e6"/>
<text x="1691.90" y="24.00" fill="#2a2e39" font-size="12.3" text-anchor="start" font-weight="normal" textLength="19.50" lengthAdjust="spacingAndGlyphs" stroke="#2a2e39" stroke-width="0.3" >USD</text>
<text x="41.10" y="751.00" fill="#3d3f45" font-size="10.3" text-anchor="middle" font-weight="normal" textLength="5.30" lengthAdjust="spacingAndGlyphs" stroke="#3d3f45" stroke-width="0.3" >5</text>
<text x="127.82" y="751.00" fill="#3d3f45" font-size="10.3" text-anchor="middle" font-weight="normal" textLength="24.80" lengthAdjust="spacingAndGlyphs" stroke="#3d3f45" stroke-width="0.3" >12:00</text>
<text x="214.54" y="751.00" fill="#3d3f45" font-size="10.3" text-anchor="middle" font-weight="normal" textLength="5.30" lengthAdjust="spacingAndGlyphs" stroke="#3d3f45" stroke-width="0.3" >6</text>
<text x="301.26" y="751.00" fill="#3d3f45" font-size="10.3" text-anchor="middle" font-weight="normal" textLength="24.80" lengthAdjust="spacingAndGlyphs" stroke="#3d3f45" stroke-width="0.3" >12:00</text>
<text x="387.98" y="751.00" fill="#3d3f45" font-size="10.3" text-anchor="middle" font-weight="normal" textLength="5.30" lengthAdjust="spacingAndGlyphs" stroke="#3d3f45" stroke-width="0.3" >7</text>
<text x="474.70" y="751.00" fill="#3d3f45" font-size="10.3" text-anchor="middle" font-weight="normal" textLength="24.80" lengthAdjust="spacingAndGlyphs" stroke="#3d3f45" stroke-width="0.3" >12:00</text>
<text x="561.42" y="751.00" fill="#3d3f45" font-size="10.3" text-anchor="middle" font-weight="normal" textLength="5.30" lengthAdjust="spacingAndGlyphs" stroke="#3d3f45" stroke-width="0.3" >8</text>
<text x="648.14" y="751.00" fill="#3d3f45" font-size="10.3" text-anchor="middle" font-weight="normal" textLength="24.80" lengthAdjust="spacingAndGlyphs" stroke="#3d3f45" stroke-width="0.3" >12:00</text>
<text x="734.86" y="751.00" fill="#3d3f45" font-size="10.3" text-anchor="middle" font-weight="normal" textLength="5.30" lengthAdjust="spacingAndGlyphs" stroke="#3d3f45" stroke-width="0.3" >9</text>
<text x="821.58" y="751.00" fill="#3d3f45" font-size="10.3" text-anchor="middle" font-weight="normal" textLength="24.80" lengthAdjust="spacingAndGlyphs" stroke="#3d3f45" stroke-width="0.3" >12:00</text>
<text x="908.30" y="751.00" fill="#3d3f45" font-size="10.3" text-anchor="middle" font-weight="normal" textLength="10.50" lengthAdjust="spacingAndGlyphs" stroke="#3d3f45" stroke-width="0.3" >10</text>
<text x="995.02" y="751.00" fill="#3d3f45" font-size="10.3" text-anchor="middle" font-weight="normal" textLength="24.80" lengthAdjust="spacingAndGlyphs" stroke="#3d3f45" stroke-width="0.3" >12:00</text>
<text x="1081.74" y="751.00" fill="#3d3f45" font-size="10.3" text-anchor="middle" font-weight="normal" textLength="10.50" lengthAdjust="spacingAndGlyphs" stroke="#3d3f45" stroke-width="0.3" >11</text>
<text x="1168.46" y="751.00" fill="#3d3f45" font-size="10.3" text-anchor="middle" font-weight="normal" textLength="24.80" lengthAdjust="spacingAndGlyphs" stroke="#3d3f45" stroke-width="0.3" >12:00</text>
<text x="1255.18" y="751.00" fill="#3d3f45" font-size="10.3" text-anchor="middle" font-weight="normal" textLength="10.50" lengthAdjust="spacingAndGlyphs" stroke="#3d3f45" stroke-width="0.3" >12</text>
<text x="1341.90" y="751.00" fill="#3d3f45" font-size="10.3" text-anchor="middle" font-weight="normal" textLength="24.80" lengthAdjust="spacingAndGlyphs" stroke="#3d3f45" stroke-width="0.3" >12:00</text>
<text x="1428.62" y="751.00" fill="#3d3f45" font-size="10.3" text-anchor="middle" font-weight="normal" textLength="10.50" lengthAdjust="spacingAndGlyphs" stroke="#3d3f45" stroke-width="0.3" >13</text>
<text x="1515.34" y="751.00" fill="#3d3f45" font-size="10.3" text-anchor="middle" font-weight="normal" textLength="24.80" lengthAdjust="spacingAndGlyphs" stroke="#3d3f45" stroke-width="0.3" >12:00</text>
<text x="1602.06" y="751.00" fill="#3d3f45" font-size="10.3" text-anchor="middle" font-weight="normal" textLength="10.50" lengthAdjust="spacingAndGlyphs" stroke="#3d3f45" stroke-width="0.3" >14</text>
<text x="15.50" y="20.80" fill="#3d3f45" font-size="12.8" text-anchor="start" font-weight="normal" textLength="186.50" lengthAdjust="spacingAndGlyphs" stroke="#3d3f45" stroke-width="0.3" >Ethereum / U.S. Dollar · 1h · Kraken</text>
<text x="209.30" y="20.80" fill="#3d3f45" font-size="12.8" text-anchor="start" font-weight="normal" textLength="7.20" lengthAdjust="spacingAndGlyphs" stroke="#3d3f45" stroke-width="0.3" >O</text>
<text x="216.60" y="20.80" fill="#22633f" font-size="12.8" text-anchor="start" font-weight="normal" textLength="44.70" lengthAdjust="spacingAndGlyphs" stroke="#22633f" stroke-width="0.3" >4,366.76</text>
<text x="268.50" y="20.80" fill="#3d3f45" font-size="12.8" text-anchor="start" font-weight="normal" textLength="7.40" lengthAdjust="spacingAndGlyphs" stroke="#3d3f45" stroke-width="0.3" >H</text>
<text x="276.00" y="20.80" fill="#22633f" font-size="12.8" text-anchor="start" font-weight="normal" textLength="44.40" lengthAdjust="spacingAndGlyphs" stroke="#22633f" stroke-width="0.3" >4,376.00</text>
<text x="327.30" y="20.80" fill="#3d3f45" font-size="12.8" text-anchor="start" font-weight="normal" textLength="5.80" lengthAdjust="spacingAndGlyphs" stroke="#3d3f45" stroke-width="0.3" >L</text>
<text x="333.00" y="20.80" fill="#22633f" font-size="12.8" text-anchor="start" font-weight="normal" textLength="44.80" lengthAdjust="spacingAndGlyphs" stroke="#22633f" stroke-width="0.3" >4,360.00</text>
<text x="384.60" y="20.80" fill="#3d3f45" font-size="12.8" text-anchor="start" font-weight="normal" textLength="6.80" lengthAdjust="spacingAndGlyphs" stroke="#3d3f45" stroke-width="0.3" >C</text>
<text x="391.20" y="20.80" fill="#22633f" font-size="12.8" text-anchor="start" font-weight="normal" textLength="43.60" lengthAdjust="spacingAndGlyphs" stroke="#22633f" stroke-width="0.3" >4,370.61</text>
<text x="443.00" y="20.80" fill="#22633f" font-size="12.8" text-anchor="start" font-weight="normal" textLength="74.00" lengthAdjust="spacingAndGlyphs" stroke="#22633f" stroke-width="0.3" >+3.84 (+0.09%)</text>
<text x="15.50" y="36.90" fill="#3d3f45" font-size="12.8" text-anchor="start" font-weight="normal" textLength="150.50" lengthAdjust="spacingAndGlyphs" stroke="#3d3f45" stroke-width="0.3" >EMA (100, close, 0, SMA, 100)</text>
<text x="174.60" y="36.90" fill="#00bcd4" font-size="12.8" text-anchor="start" font-weight="normal" textLength="43.40" lengthAdjust="spacingAndGlyphs" stroke="#00bcd4" stroke-width="0.3" >4,330.04</text>
<text x="15.50" y="548.60" fill="#3d3f45" font-size="12.8" text-anchor="start" font-weight="normal" textLength="133.20" lengthAdjust="spacingAndGlyphs" stroke="#3d3f45" stroke-width="0.3" >RSI (14, close, SMA, 14, 2)</text>
<text x="156.25" y="548.60" fill="#9c27b0" font-size="12.8" text-anchor="start" font-weight="normal" textLength="27.50" lengthAdjust="spacingAndGlyphs" stroke="#9c27b0" stroke-width="0.3" >57.52</text>
<text x="191.25" y="548.60" fill="#fdd835" font-size="12.8" text-anchor="start" font-weight="normal" textLength="28.00" lengthAdjust="spacingAndGlyphs" stroke="#fdd835" stroke-width="0.3" >57.34</text>
<text x="227.00" y="548.60" fill="#3d3f45" font-size="12.8" text-anchor="start" font-weight="normal" textLength="7.30" lengthAdjust="spacingAndGlyphs" stroke="#3d3f45" stroke-width="0.3" >Ø</text>
<text x="241.25" y="548.60" fill="#3d3f45" font-size="12.8" text-anchor="start" font-weight="normal" textLength="7.50" lengthAdjust="spacingAndGlyphs" stroke="#3d3f45" stroke-width="0.3" >Ø</text>
<text x="15.00" y="679.00" fill="#3d3f45" font-size="12.8" text-anchor="start" font-weight="normal" textLength="176.20" lengthAdjust="spacingAndGlyphs" stroke="#3d3f45" stroke-width="0.3" >MACD (12, 26, close, 9, EMA, EMA)</text>
<text x="199.25" y="679.00" fill="#ffcdd2" font-size="12.8" text-anchor="start" font-weight="normal" textLength="27.80" lengthAdjust="spacingAndGlyphs" stroke="#ffcdd2" stroke-width="0.3" >−0.54</text>
<text x="233.75" y="679.00" fill="#2962ff" font-size="12.8" text-anchor="start" font-weight="normal" textLength="22.50" lengthAdjust="spacingAndGlyphs" stroke="#2962ff" stroke-width="0.3" >8.94</text>
<text x="263.75" y="679.00" fill="#ff6d00" font-size="12.8" text-anchor="start" font-weight="normal" textLength="21.30" lengthAdjust="spacingAndGlyphs" stroke="#ff6d00" stroke-width="0.3" >9.47</text>
<g fill="#111111"><path d="M9.15 781.8H20.9V795.7H15.1V787.3H9.15Z"/><circle cx="25.6" cy="784.6" r="2.8"/><path d="M31.1 781.8H37.8L32.4 795.7H25.9Z"/></g>
<text x="44.80" y="795.60" fill="#111111" font-size="19.5" text-anchor="start" font-weight="bold" textLength="115.00" lengthAdjust="spacingAndGlyphs" >TradingView</text>
</svg>
</body></html>
